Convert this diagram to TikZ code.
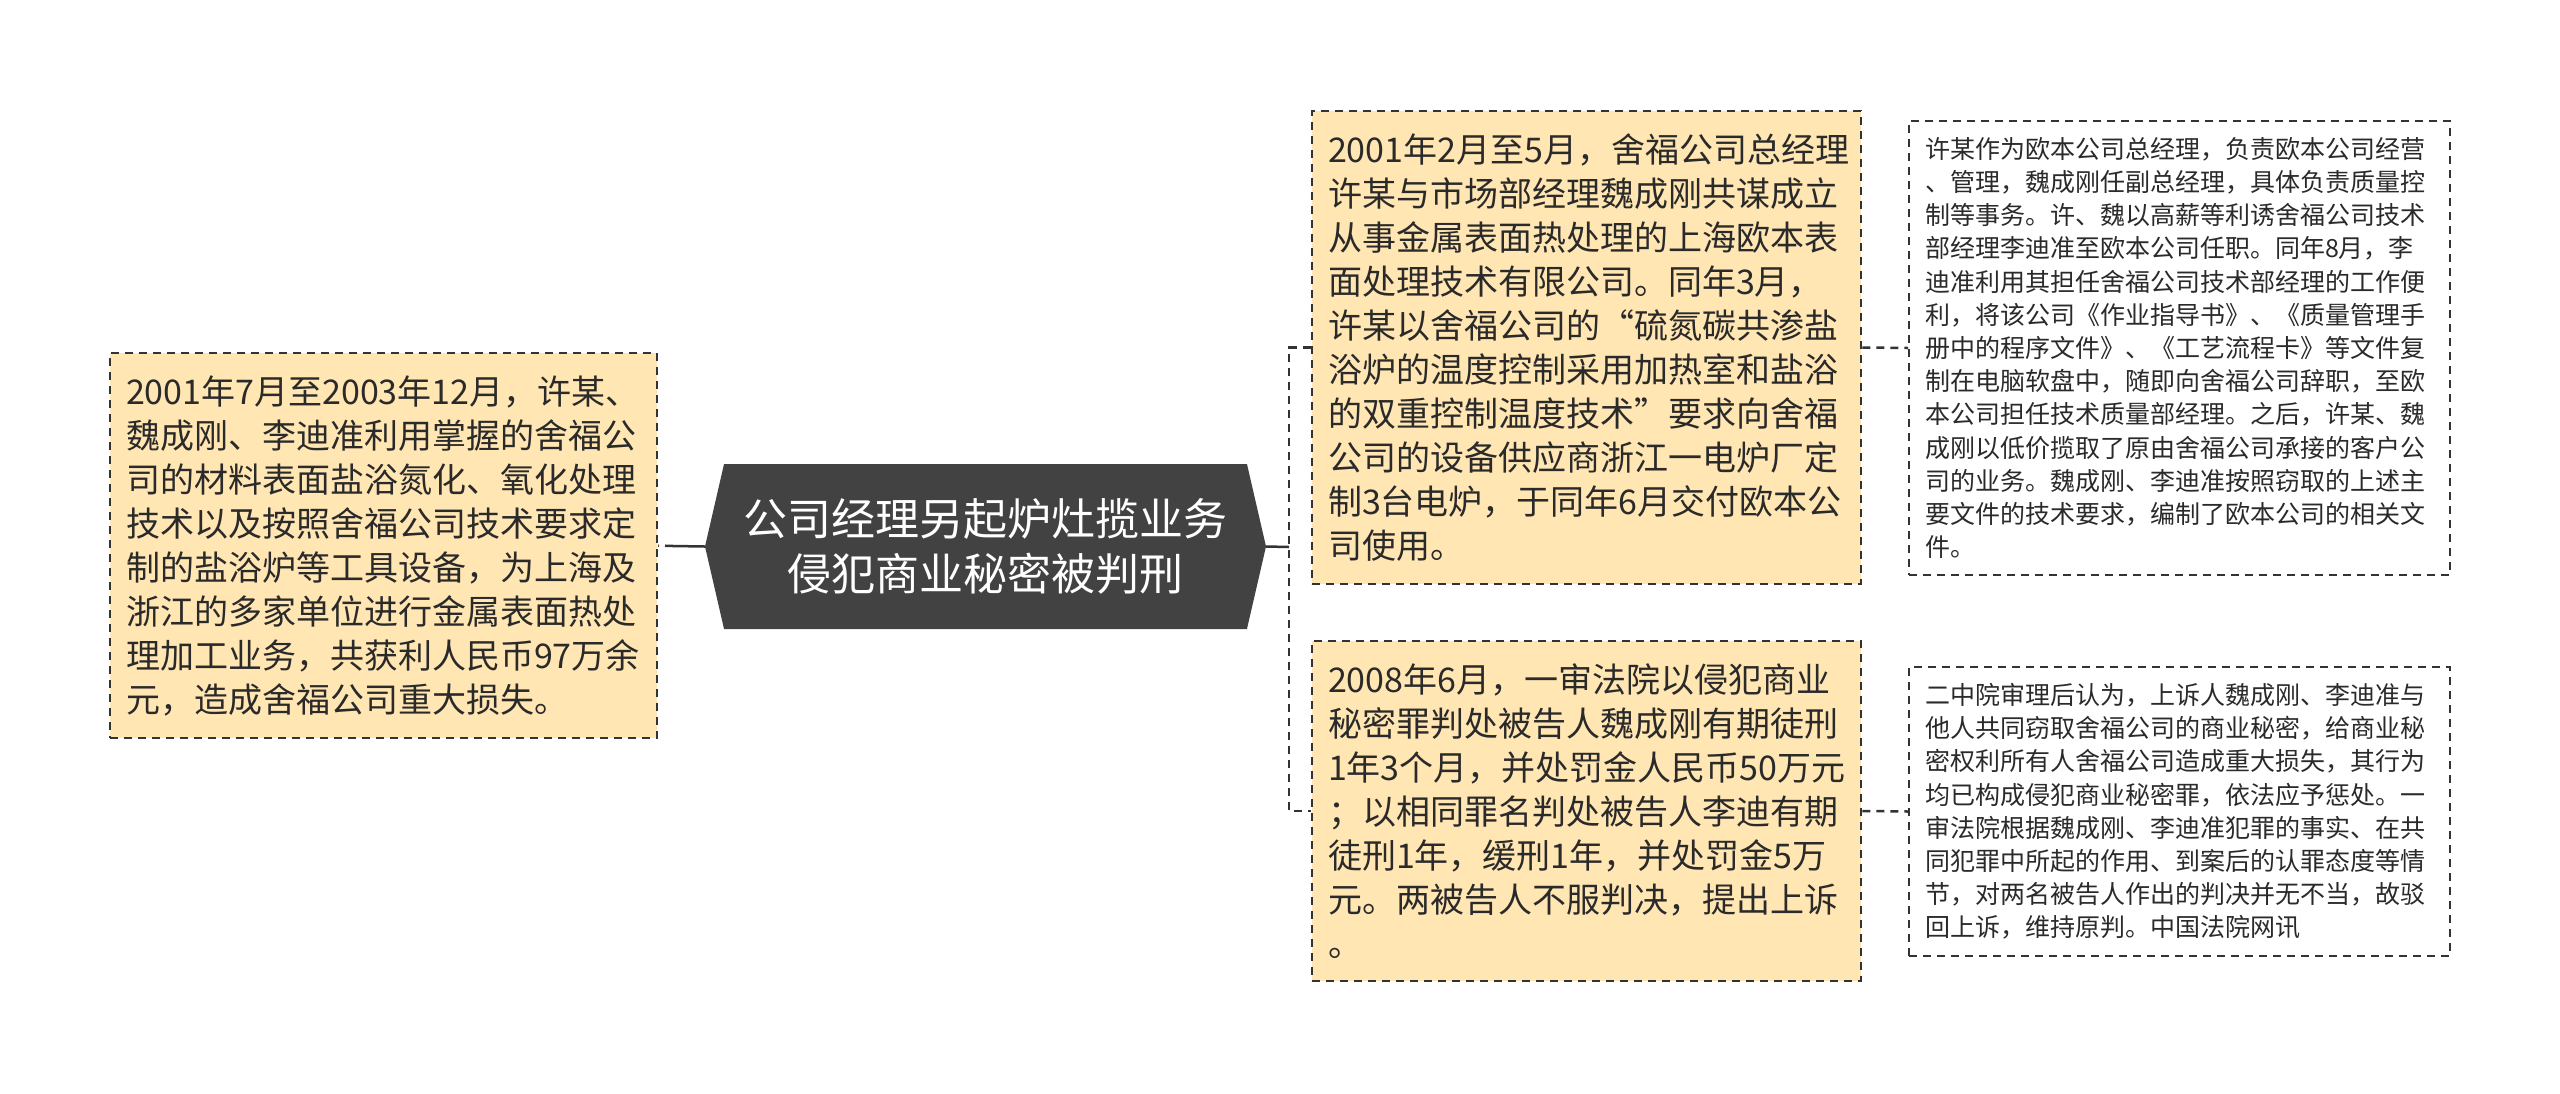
\documentclass[tikz,border=0pt]{standalone}
\usepackage{fontspec}
\setmainfont{Noto Sans CJK SC}
\usetikzlibrary{shapes.symbols, calc, positioning}
\definecolor{leafbg}{HTML}{FFE6B3}
\definecolor{rootbg}{HTML}{424242}
\definecolor{linegray}{HTML}{333333}
\definecolor{ink}{HTML}{2A2A2A}
\tikzset{
  lw/.style={line width=#1},
  tw/.style={text width=#1},
  mh/.style={minimum height=#1},
  dsh/.style={dash pattern=on 8pt off 6pt},
  mid/.style={draw=linegray, lw=2.5pt, dsh, fill=leafbg, text=ink, align=left, inner xsep=16pt, inner ysep=0pt, font=\fontsize{34}{44}\selectfont},
  leaf/.style={draw=linegray, lw=2pt, dsh, fill=white, text=ink, align=left, inner xsep=16pt, inner ysep=0pt, font=\fontsize{25}{33.2}\selectfont},
  root/.style={signal, signal to=east and west, signal pointer angle=154, fill=rootbg, text=white, align=center, inner sep=0pt, font=\fontsize{44}{55}\selectfont},
  con/.style={draw=linegray, lw=2.5pt, dsh},
}

\begin{document}
\begin{tikzpicture}[x=1pt,y=-1pt]
\useasboundingbox (0,0) rectangle (2560,1093);

\node[root, minimum width=561pt, minimum height=165pt] at (985.5,546.5) (c) {公司经理另起炉灶揽业务\\侵犯商业秘密被判刑};

\node[mid, tw=515pt, mh=385pt] at (383.5,545.5) (l) {2001年7月至2003年12月，许某、\\魏成刚、李迪准利用掌握的舍福公\\司的材料表面盐浴氮化、氧化处理\\技术以及按照舍福公司技术要求定\\制的盐浴炉等工具设备，为上海及\\浙江的多家单位进行金属表面热处\\理加工业务，共获利人民币97万余\\元，造成舍福公司重大损失。};

\node[mid, tw=517pt, mh=473pt] at (1586.5,347.5) (r1) {2001年2月至5月，舍福公司总经理\\许某与市场部经理魏成刚共谋成立\\从事金属表面热处理的上海欧本表\\面处理技术有限公司。同年3月，\\许某以舍福公司的“硫氮碳共渗盐\\浴炉的温度控制采用加热室和盐浴\\的双重控制温度技术”要求向舍福\\公司的设备供应商浙江一电炉厂定\\制3台电炉，于同年6月交付欧本公\\司使用。};

\node[mid, tw=517pt, mh=340pt] at (1586.5,811) (r2) {2008年6月，一审法院以侵犯商业\\秘密罪判处被告人魏成刚有期徒刑\\1年3个月，并处罚金人民币50万元\\；以相同罪名判处被告人李迪有期\\徒刑1年，缓刑1年，并处罚金5万\\元。两被告人不服判决，提出上诉\\。};

\node[leaf, tw=509pt, mh=454pt] at (2179.5,348) (d1) {许某作为欧本公司总经理，负责欧本公司经营\\、管理，魏成刚任副总经理，具体负责质量控\\制等事务。许、魏以高薪等利诱舍福公司技术\\部经理李迪准至欧本公司任职。同年8月，李\\迪准利用其担任舍福公司技术部经理的工作便\\利，将该公司《作业指导书》、《质量管理手\\册中的程序文件》、《工艺流程卡》等文件复\\制在电脑软盘中，随即向舍福公司辞职，至欧\\本公司担任技术质量部经理。之后，许某、魏\\成刚以低价揽取了原由舍福公司承接的客户公\\司的业务。魏成刚、李迪准按照窃取的上述主\\要文件的技术要求，编制了欧本公司的相关文\\件。};

\node[leaf, tw=509pt, mh=289pt] at (2179.5,811.5) (d2) {二中院审理后认为，上诉人魏成刚、李迪准与\\他人共同窃取舍福公司的商业秘密，给商业秘\\密权利所有人舍福公司造成重大损失，其行为\\均已构成侵犯商业秘密罪，依法应予惩处。一\\审法院根据魏成刚、李迪准犯罪的事实、在共\\同犯罪中所起的作用、到案后的认罪态度等情\\节，对两名被告人作出的判决并无不当，故驳\\回上诉，维持原判。中国法院网讯};

\coordinate (jl) at (673,546);
\coordinate (jr) at (1289,547);

\draw[linegray, lw=2.5pt] (c.west) -- (jl);
\draw[con] (jl) -- (l.east);

\draw[linegray, lw=2.5pt] (c.east) -- (jr);
\draw[con] (r1.west) -| (jr) |- (r2.west);

\draw[con] (r1.east) -- (d1.west);
\draw[con] (r2.east) -- (d2.west);

\end{tikzpicture}
\end{document}
